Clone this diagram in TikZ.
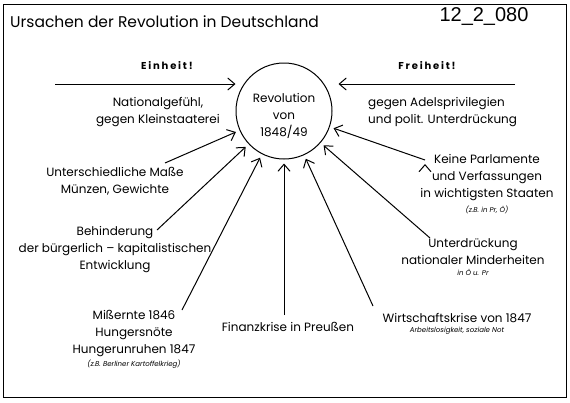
\documentclass[tikz,border=0pt]{standalone}
\usepackage{fontspec}
\setmainfont{Poppins}
\newfontfamily\numfont{Liberation Sans}
\usetikzlibrary{positioning,arrows.meta}

\begin{document}
\begin{tikzpicture}[x=1pt,y=-1pt,
  every node/.style={font=\fontsize{12}{17}\selectfont,align=center,inner sep=0pt},
  cause/.style={draw,line width=1pt,-{Straight Barb[length=7pt,width=12pt]},shorten >=4pt},
  note/.style={font=\fontsize{7}{8}\selectfont\itshape},
  slogan/.style={font=\fontsize{10}{12}\selectfont\bfseries\addfontfeature{LetterSpace=18}}]
  \useasboundingbox (0,0) rectangle (570,402);
  \draw[line width=0.8pt] (3,4) rectangle (566,397);

  % heading
  \node[anchor=base west,font=\fontsize{15.5}{18}\selectfont] (title) at (10,27)
    {Ursachen der Revolution in Deutschland};
  \node[font=\numfont\fontsize{20}{24}\selectfont] (code) at (484,17) {12\_2\_080};

  % centre
  \node[circle,draw,line width=1pt,minimum size=96pt] (rev) at (284,111) {};
  \node (revtext) at (284,116) {Revolution\\von\\1848/49};

  % top row
  \node[slogan] (einheit) at (167,66) {Einheit!};
  \node[slogan] (freiheit) at (427,66) {Freiheit!};
  \coordinate (einL) at (55,84);
  \coordinate (freiR) at (515,84);
  \node (national) at (158,112) {Nationalgefühl,\\gegen Kleinstaaterei};
  \node[align=left,anchor=west] (adel) at (368,112) {gegen Adelsprivilegien\\und polit. Unterdrückung};

  % left side
  \node (masse) at (115,181) {Unterschiedliche Maße\\Münzen, Gewichte};
  \node (behind) at (115,250) {Behinderung\\der bürgerlich -- kapitalistischen\\Entwicklung};
  \node (miss) at (134,333) {Mißernte 1846\\Hungersnöte\\Hungerunruhen 1847};
  \node[note,below=3pt of miss] (missnote) {(z.B. Berliner Kartoffelkrieg)};

  % bottom
  \node (finanz) at (288,327) {Finanzkrise in Preußen};
  \node (wirt) at (457,318) {Wirtschaftskrise von 1847};
  \node[note,below=4pt of wirt] (wirtnote) {Arbeitslosigkeit, soziale Not};

  % right side
  \node (keine) at (487,178) {Keine Parlamente\\und Verfassungen\\in wichtigsten Staaten};
  \node[note,below=4pt of keine] (keinenote) {(z.B. in Pr, Ö)};
  \node (unter) at (473,252) {Unterdrückung\\nationaler Minderheiten};
  \node[note,below=4pt of unter] (unternote) {in Ö u. Pr};

  % arrow starts
  \coordinate (masseS) at (165,163);
  \coordinate (behindS) at (157,230);
  \coordinate (missS) at (182,310);
  \coordinate (finanzS) at (284,315);
  \coordinate (wirtS) at (373,306);
  \coordinate (unterS) at (430,238);
  \coordinate (keineS) at (425,160);

  \draw[cause,shorten >=0pt] (einL) -- (einL -| rev.west);
  \draw[cause,shorten >=6pt] (freiR) -- (freiR -| rev.east);
  \path[cause]
  (masseS) edge (rev)
  (behindS) edge (rev)
  (missS) edge (rev)
  (finanzS) edge (rev)
  (wirtS) edge (rev)
  (unterS) edge (rev)
  (keineS) edge (rev)
  ;
\end{tikzpicture}
\end{document}
